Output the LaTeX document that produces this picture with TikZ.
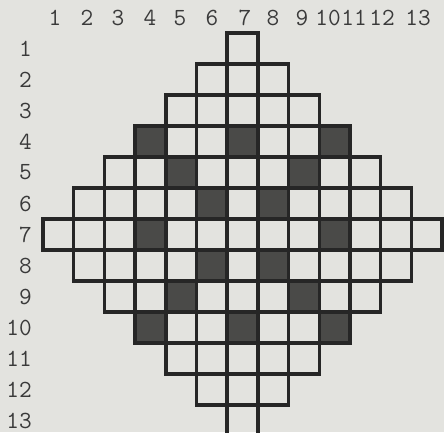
\documentclass[tikz,border=0pt]{standalone}
\usepackage{tikz}
\usetikzlibrary{positioning}
\definecolor{paper}{HTML}{E3E3DF}
\definecolor{ink}{HTML}{262626}
\definecolor{stamp}{HTML}{4A4A48}
\definecolor{typed}{HTML}{3A3A3A}

\begin{document}
\begin{tikzpicture}[
  x=0.025cm, y=-0.025cm,
  cellbox/.style={draw=ink, line width=2.5pt, line join=miter},
  shaded/.style={fill=stamp},
  numlabel/.style={font=\ttfamily\fontsize{17.5}{19}\selectfont, text=typed, inner sep=0pt}
]
  \fill[paper] (0,0) rectangle (444,432);
  \useasboundingbox (0,0) rectangle (444,432);

  % dark squares
  \foreach \c/\r in {4/4,7/4,10/4,5/5,9/5,6/6,8/6,4/7,10/7,6/8,8/8,5/9,9/9,4/10,7/10,10/10}
    \fill[shaded] ({43+(\c-1)*30.7},{33+(\r-1)*31}) rectangle +(30.7,31);

  % diamond of cells
  \foreach \r in {1,...,13} {
    \pgfmathtruncatemacro\cfirst{7-(6-abs(\r-7))}
    \pgfmathtruncatemacro\clast{7+(6-abs(\r-7))}
    \foreach \c in {\cfirst,...,\clast}
      \draw[cellbox] ({43+(\c-1)*30.7},{33+(\r-1)*31}) rectangle +(30.7,31);
  }

  % column and row numbers
  \foreach \c/\xpos in {1/55,2/87,3/118,4/150,5/180,6/212,7/245,8/273,9/302,10/328,11/354,12/382,13/418}
    \node[numlabel] (col\c) at (\xpos,18) {\c};
  \foreach \r in {1,...,13}
    \node[numlabel, anchor=east] (row\r) at (32,{48.5+(\r-1)*31}) {\r};
\end{tikzpicture}
\end{document}
